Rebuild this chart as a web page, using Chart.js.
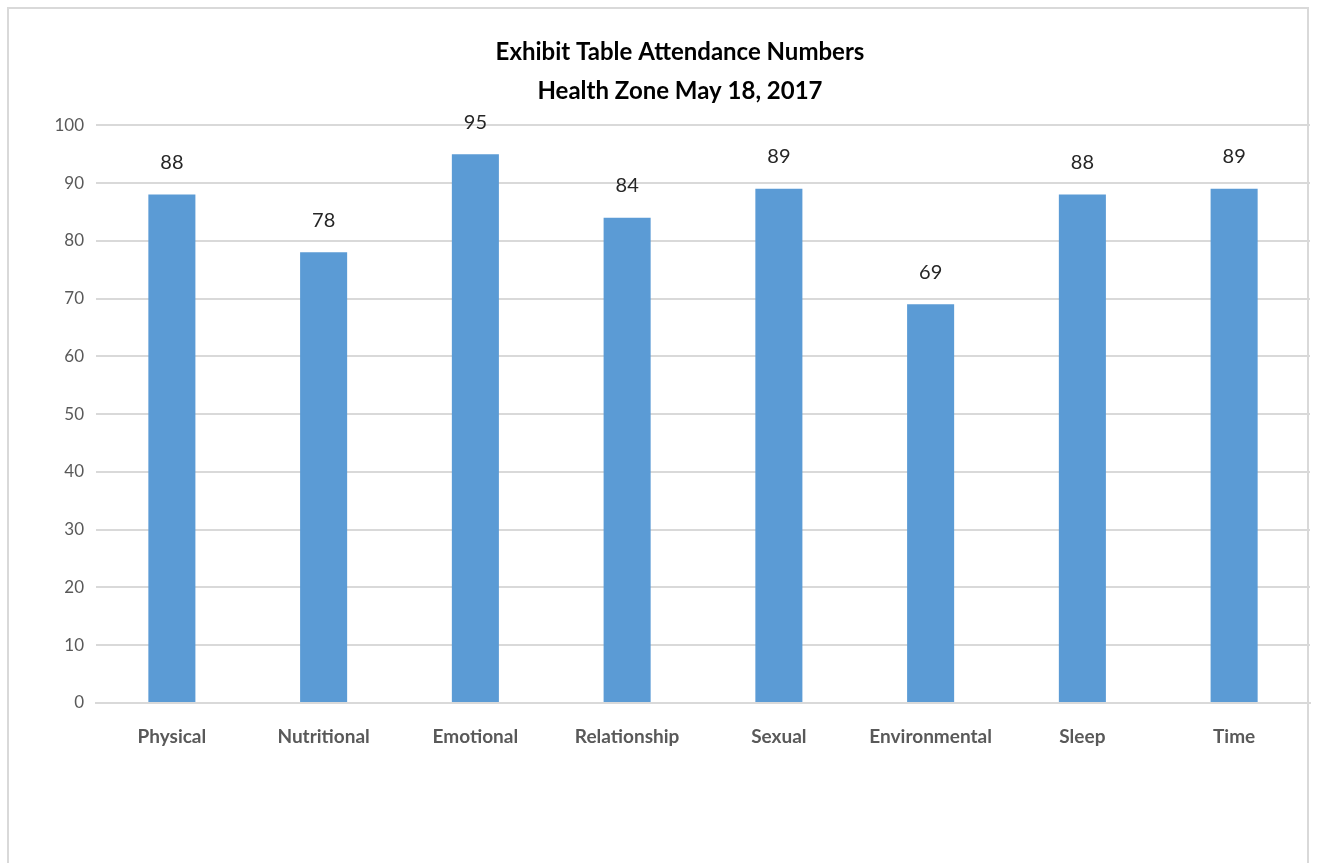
<!DOCTYPE html>
<html>
<head>
<meta charset="utf-8">
<script src="https://cdn.jsdelivr.net/npm/chart.js@4"></script>
<style>
    body { margin: 0; background: #fff; }
    #frame {
        position: absolute; left: 7px; top: 7px; width: 1302px; height: 880px;
        border: 2px solid #d9d9d9; box-sizing: border-box;
    }
    #wrap { position: absolute; left: 0; top: 0; width: 1320px; height: 863px; }
</style>
</head>
<body>
<div id="frame"></div>
<div id="wrap"><canvas id="chart"></canvas></div>
<script>
const categories = ["Physical", "Nutritional", "Emotional", "Relationship", "Sexual", "Environmental", "Sleep", "Time"];
const attendance = [88, 78, 95, 84, 89, 69, 88, 89];
const titleLines = ["Exhibit Table Attendance Numbers", "Health Zone May 18, 2017"];

const FONT = "Lato, 'Open Sans', sans-serif";

// value labels over the bars
const valueLabels = {
    id: "valueLabels",
    afterDatasetsDraw(chart) {
        const ctx = chart.ctx;
        const meta = chart.getDatasetMeta(0);
        ctx.save();
        ctx.font = "20px " + FONT;
        ctx.fillStyle = "#262626";
        ctx.textAlign = "center";
        ctx.textBaseline = "middle";
        meta.data.forEach((bar, i) => {
            ctx.fillText(attendance[i], bar.x, bar.y - 32);
        });
        ctx.restore();
    }
};

new Chart(document.getElementById("chart"), {
    type: "bar",
    data: {
        labels: categories,
        datasets: [{
            data: attendance,
            backgroundColor: "#5b9bd5",
            categoryPercentage: 1,
            barPercentage: 0.31
        }]
    },
    options: {
        responsive: true,
        maintainAspectRatio: false,
        animation: false,
        layout: { padding: { left: 50, right: 10, top: 33, bottom: 0 } },
        plugins: {
            legend: { display: false },
            tooltip: { enabled: false },
            title: {
                display: true,
                text: titleLines,
                color: "#000",
                font: { family: FONT, size: 24, weight: "bold", lineHeight: 1.63 },
                padding: { top: 0, bottom: 14 }
            }
        },
        scales: {
            x: {
                grid: { display: false },
                border: { color: "#d9d9d9", width: 2 },
                ticks: { color: "#595959", font: { family: FONT, size: 19, weight: "bold" }, padding: 14 },
                afterFit(scale) { scale.height = 160; }
            },
            y: {
                min: 0,
                max: 100,
                ticks: { stepSize: 10, color: "#595959", font: { family: FONT, size: 17 }, padding: 12 },
                grid: { color: "#d9d9d9", lineWidth: 2, drawTicks: false },
                border: { display: false },
                afterFit(scale) { scale.width = 46; }
            }
        }
    },
    plugins: [valueLabels]
});
</script>
</body>
</html>
